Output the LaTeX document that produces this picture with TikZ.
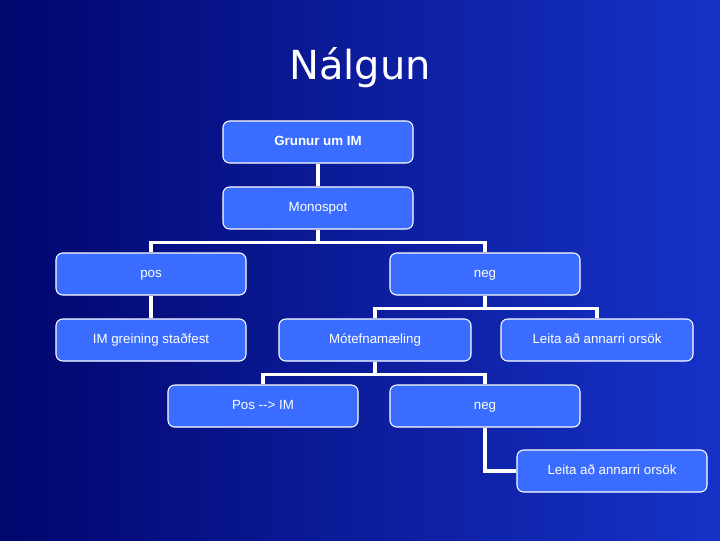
\documentclass[tikz,border=0pt]{standalone}
\usepackage{fontspec}
\setmainfont{Liberation Sans}
\newfontfamily\titlefont{DejaVu Sans}
\usetikzlibrary{positioning}
\definecolor{boxblue}{RGB}{58,108,255}
\definecolor{bgdark}{RGB}{2,6,110}
\definecolor{bglight}{RGB}{22,50,200}
\begin{document}
\begin{tikzpicture}[x=0.75pt, y=-0.75pt,
        box/.style={rectangle, rounded corners=5pt, draw=white, line width=0.8pt, fill=boxblue,
            text=white, minimum width=142.5pt, minimum height=31.5pt, text height=7.5pt, text depth=2pt,
            font=\fontsize{10}{12}\selectfont},
        line/.style={draw=white, line width=2.4pt}
    ]
        % Background
        \shade[left color=bgdark, right color=bglight] (0,0) rectangle (720,540);
        \useasboundingbox (0,0) rectangle (720,540);
        \node[text=white, font=\titlefont\fontsize{30}{36}\selectfont] (title) at (360,68) {Nálgun};
        % Boxes
        \node[box, font=\bfseries\fontsize{10}{12}\selectfont] (grunur) at (318,142) {Grunur um IM};
        \node[box] (mono) at (318,208) {Monospot};
        \node[box] (pos) at (151,274) {pos};
        \node[box] (neg) at (485,274) {neg};
        \node[box] (greining) at (151,340) {IM greining staðfest};
        \node[box, minimum width=144pt] (motefni) at (375,340) {Mótefnamæling};
        \node[box, minimum width=144pt] (leita) at (597,340) {Leita að annarri orsök};
        \node[box] (posim) at (263,406) {Pos {-}{-}> IM};
        \node[box] (negtwo) at (485,406) {neg};
        \node[box] (leitatwo) at (612,471) {Leita að annarri orsök};
        % Connections
        \path[line] (grunur) -- (mono);
        \path[line] (mono.south) -- ++(0,13) -| (pos.north);
        \path[line] (mono.south) -- ++(0,13) -| (neg.north);
        \path[line] (pos) -- (greining);
        \path[line] (neg.south) -- ++(0,13) -| (motefni.north);
        \path[line] (neg.south) -- ++(0,13) -| (leita.north);
        \path[line] (motefni.south) -- ++(0,13) -| (posim.north);
        \path[line] (motefni.south) -- ++(0,13) -| (negtwo.north);
        \path[line] (negtwo.south) |- (leitatwo.west);
\end{tikzpicture}
\end{document}
